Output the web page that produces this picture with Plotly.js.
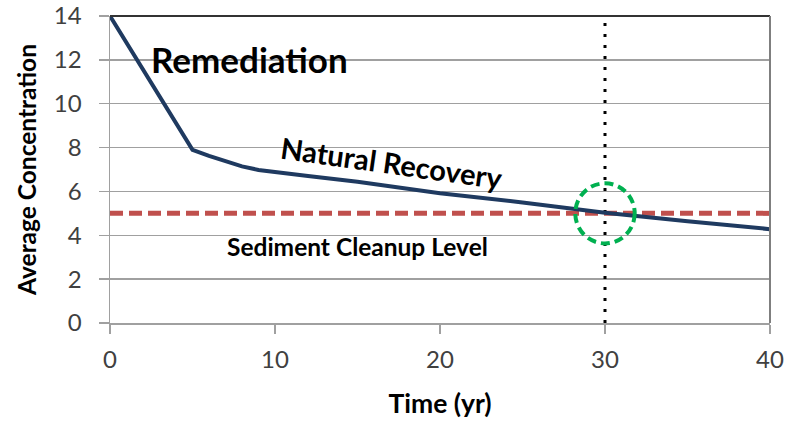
<!DOCTYPE html>
<html>
<head>
<meta charset="utf-8">
<script src="https://cdn.plot.ly/plotly-3.0.1.min.js"></script>
<style>html,body{margin:0;padding:0;background:#fff}#chart{width:796px;height:422px}</style>
</head>
<body>
<div id="chart"></div>
<script>
// Concentration over time
const timeYr = [0, 5, 6, 7, 8, 9, 10, 12, 15, 20, 25, 30, 35, 40];
const avgConc = [14, 7.9, 7.62, 7.36, 7.14, 6.98, 6.88, 6.7, 6.44, 5.92, 5.5, 5.03, 4.64, 4.28];
const cleanupX = [0, 40];
const cleanupY = [5, 5];
const markerX = [30, 30];
const markerY = [0, 14];
const xTicks = [0, 10, 20, 30, 40];
const yTicks = [0, 2, 4, 6, 8, 10, 12, 14];
const labelRemediation = "Remediation";
const labelNatural = "Natural Recovery";
const labelCleanup = "Sediment Cleanup Level";
const xTitle = "Time (yr)";
const yTitle = "Average Concentration";

const FONT = "Lato, 'Open Sans', sans-serif";

const traces = [
  {x: cleanupX, y: cleanupY, mode: 'lines', line: {color: '#c0504d', width: 5, dash: '13px,6px'}, hoverinfo: 'skip'},
  {x: markerX, y: markerY, mode: 'lines', line: {color: '#000000', width: 3, dash: '3px,8px'}, hoverinfo: 'skip'},
  {x: timeYr, y: avgConc, mode: 'lines', line: {color: '#1f3a60', width: 4}, hoverinfo: 'skip'}
];

const layout = {
  width: 796, height: 422,
  margin: {l: 110, r: 26, t: 16, b: 99},
  paper_bgcolor: '#fff', plot_bgcolor: '#fff',
  showlegend: false,
  font: {family: FONT, color: '#404040'},
  xaxis: {
    range: [0, 40], tickvals: xTicks, ticktext: xTicks.map(String),
    showgrid: false, zeroline: false,
    showline: true, linecolor: '#a0a0a0', linewidth: 1.5,
    ticks: 'outside', ticklen: 9, tickcolor: '#a0a0a0', tickwidth: 1.5,
    ticklabelstandoff: 6,
    tickfont: {size: 24, color: '#404040', family: FONT},
    title: {text: '<b>' + xTitle + '</b>', font: {size: 26.5, color: '#000', family: FONT}, standoff: 22},
    automargin: false, fixedrange: true
  },
  yaxis: {
    range: [0, 14], tickvals: yTicks, ticktext: yTicks.map(String),
    showgrid: true, gridcolor: '#a0a0a0', gridwidth: 1.3, zeroline: false,
    showline: true, linecolor: '#a0a0a0', linewidth: 1.5,
    ticks: 'outside', ticklen: 10, tickcolor: '#a0a0a0', tickwidth: 1.5,
    ticklabelstandoff: 12,
    tickfont: {size: 24, color: '#404040', family: FONT},
    title: {text: '<b>' + yTitle + '</b>', font: {size: 24.5, color: '#000', family: FONT}, standoff: 10},
    automargin: false, fixedrange: true
  },
  shapes: [
    {type: 'line', xref: 'paper', yref: 'paper', x0: 0, x1: 1, y0: 1, y1: 1, line: {color: '#333333', width: 2}},
    {type: 'line', xref: 'paper', yref: 'paper', x0: 1, x1: 1, y0: 0, y1: 1, line: {color: '#7f7f7f', width: 2}},
    {type: 'circle', xref: 'x', yref: 'y', x0: 28.2, x1: 31.8, y0: 3.63, y1: 6.37, line: {color: '#00b050', width: 4, dash: '9px,5px'}}
  ],
  annotations: [
    {x: 2.35, y: 12.05, xref: 'x', yref: 'y', xanchor: 'left', yanchor: 'middle', showarrow: false,
     text: '<b>' + labelRemediation + '</b>', font: {size: 35, color: '#000', family: FONT}},
    {x: 17.05, y: 7.3, xref: 'x', yref: 'y', xanchor: 'center', yanchor: 'middle', showarrow: false, textangle: 8,
     text: '<b>' + labelNatural + '</b>', font: {size: 29, color: '#000', family: FONT}},
    {x: 14.97, y: 3.47, xref: 'x', yref: 'y', xanchor: 'center', yanchor: 'middle', showarrow: false,
     text: '<b>' + labelCleanup + '</b>', font: {size: 24.5, color: '#000', family: FONT}}
  ]
};

Plotly.newPlot('chart', traces, layout, {displayModeBar: false, staticPlot: true});
</script>
</body>
</html>
